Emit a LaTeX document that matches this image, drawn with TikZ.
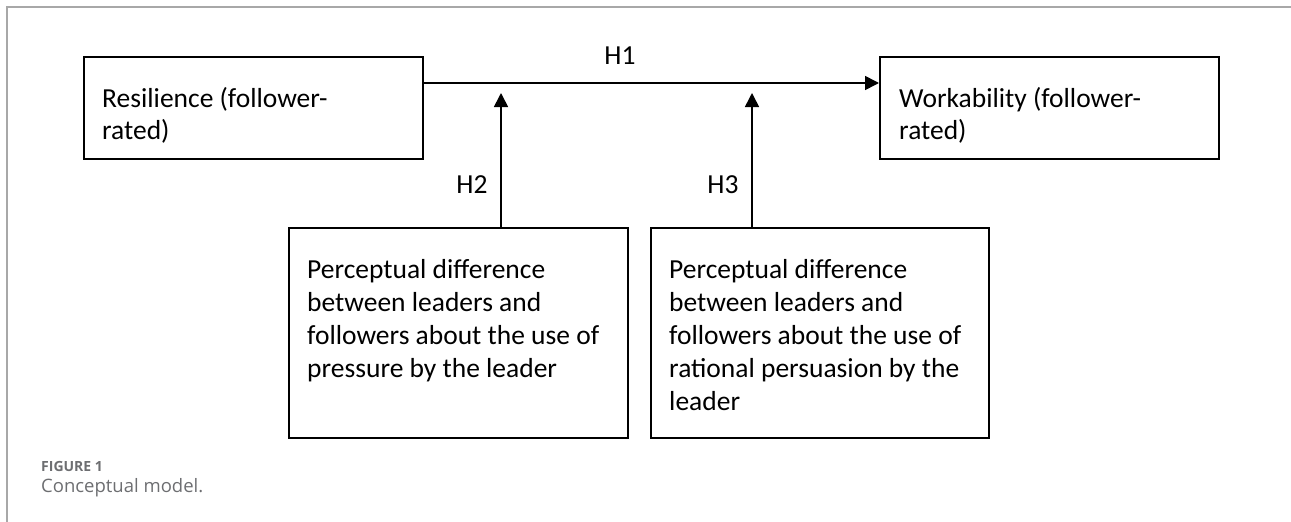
\documentclass[tikz,border=0pt]{standalone}
\usepackage{fontspec}
\setmainfont{Carlito}
\newfontfamily\capfont{Open Sans}
\usetikzlibrary{arrows.meta}
\definecolor{capgray}{HTML}{6D6E71}
\definecolor{framegray}{HTML}{A8A8A8}
\begin{document}
\begin{tikzpicture}[x=1pt,y=-1pt,
  box/.style={draw=black,line width=1.5pt,inner sep=0pt,anchor=north west},
  txt/.style={anchor=base west,inner sep=0pt},
  hlab/.style={anchor=base,inner sep=0pt,font=\fontsize{27.5}{30}\selectfont},
  arr/.style={line width=1.6pt,-{Triangle[length=14pt,width=14pt]}},
  frame/.style={draw=framegray,line width=1.6pt}]
\useasboundingbox (0,0) rectangle (1291,522);
\draw[frame] (7,522) -- (7,7) -- (1291,7);
% boxes
\node[box,minimum width=339pt,minimum height=102pt] (res) at (83,56) {};
\node[box,minimum width=339pt,minimum height=102pt] (work) at (879,56) {};
\node[box,minimum width=339pt,minimum height=210pt] (pb) at (288,227) {};
\node[box,minimum width=338pt,minimum height=210pt] (rb) at (650,227) {};
% texts
\node[txt] (restxt) at (102,107) {\parbox[t]{330pt}{\raggedright\fontsize{27.5}{32}\selectfont Resilience (follower-\\rated)}};
\node[txt] (worktxt) at (899,107) {\parbox[t]{330pt}{\raggedright\fontsize{27.5}{32}\selectfont Workability (follower-\\rated)}};
\node[txt] (pbtxt) at (307,278) {\parbox[t]{330pt}{\raggedright\fontsize{27.5}{33}\selectfont Perceptual difference\\between leaders and\\followers about the use of\\pressure by the leader}};
\node[txt] (rbtxt) at (669,278) {\parbox[t]{330pt}{\raggedright\fontsize{27.5}{33}\selectfont Perceptual difference\\between leaders and\\followers about the use of\\rational persuasion by the\\leader}};
% labels
\node[hlab] (h1) at (620,64) {H1};
\node[hlab] (h2) at (472,193) {H2};
\node[hlab] (h3) at (723,193) {H3};
% connectors
\draw[arr] ([yshift=-27pt]res.north east) -- ([yshift=-27pt]work.north west);
\coordinate (t2) at (501,93);
\coordinate (t3) at (752,93);
\draw[arr] (t2 |- pb.north) -- (t2);
\draw[arr] (t3 |- rb.north) -- (t3);
% caption
\node[anchor=base west,inner sep=0pt,text=capgray,font=\capfont\bfseries\fontsize{14}{16}\selectfont] (fig) at (41,471) {FIGURE 1};
\node[anchor=base west,inner sep=0pt,text=capgray,font=\capfont\fontsize{18.5}{21}\selectfont] (cap) at (41,492) {Conceptual model.};
\end{tikzpicture}
\end{document}
